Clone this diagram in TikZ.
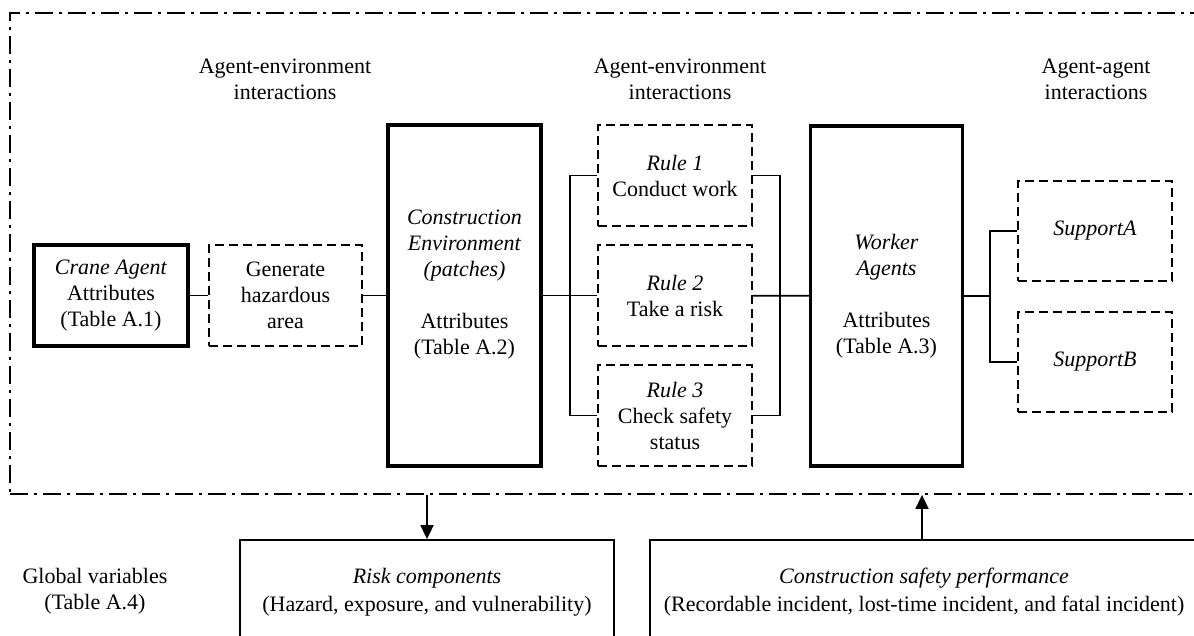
\documentclass[tikz,border=0pt]{standalone}
\usepackage{fontspec}
\setmainfont{Liberation Serif}
\usetikzlibrary{arrows.meta}
\tikzset{
  every node/.style={font=\fontsize{22}{26}\selectfont, align=center, inner sep=0pt},
  thickbox/.style={draw, line width=3.5pt, minimum width=#1},
  thickbox/.default=153pt,
  dbox/.style={draw, line width=1.8pt, dash pattern=on 9pt off 5pt, minimum width=154pt, minimum height=101pt},
  conn/.style={line width=1.8pt},
  arr/.style={line width=1.8pt, -{Triangle[length=14pt,width=13pt]}},
  frame/.style={draw, line width=1.8pt, dash pattern=on 18pt off 6pt on 3pt off 6pt},
  plainbox/.style={draw, line width=1.8pt}
}
\begin{document}
\begin{tikzpicture}[x=1pt,y=-1pt]
\clip (0,0) rectangle (1194,636);
\useasboundingbox (0,0) rectangle (1194,636);
\fill[white] (0,0) rectangle (1194,636);

% outer frame
\node[frame, minimum width=1200pt, minimum height=481pt] (frame) at (610,253.5) {};

% headings
\node (h1) at (285,79) {Agent-environment\\interactions};
\node (h2) at (680,79) {Agent-environment\\interactions};
\node (h3) at (1096,79) {Agent-agent\\interactions};

% main boxes
\node[thickbox=154pt, minimum height=101pt] (crane) at (111,295.5) {\textit{Crane Agent}\\Attributes\\(Table A.1)};
\node[dbox, minimum width=153pt] (gen) at (285.5,295.5) {Generate\\hazardous\\area};
\node[thickbox, minimum height=341pt] (env) at (464.5,295.5) {\textit{Construction}\\\textit{Environment}\\\textit{(patches)}\\[26pt]Attributes\\(Table A.2)\\~};
\node[dbox] (r1) at (675,175.5) {\textit{Rule 1}\\Conduct work};
\node[dbox] (r2) at (675,295.5) {\textit{Rule 2}\\Take a risk};
\node[dbox] (r3) at (675,415.5) {\textit{Rule 3}\\Check safety\\status};
\node[thickbox=152pt, minimum height=340pt] (worker) at (886.5,296) {\textit{Worker}\\\textit{Agents}\\[26pt]Attributes\\(Table A.3)};
\node[dbox, minimum height=100pt] (sa) at (1095,231) {\textit{SupportA}};
\node[dbox, minimum height=100pt] (sb) at (1095,362) {\textit{SupportB}};

% connectors
\coordinate (jl) at (570,296);
\coordinate (jr) at (780,296);
\coordinate (jw) at (990,296);
\draw[conn] (crane) -- (gen);
\draw[conn] (gen) -- (env);
\draw[conn] (env) -- (r2);
\draw[conn] (r1.west) -| (jl) |- (r3.west);
\draw[conn] (r2) -- (worker);
\draw[conn] (r1.east) -| (jr) |- (r3.east);
\draw[conn] (worker) -- (jw);
\draw[conn] (sa.west) -| (jw) |- (sb.west);

% bottom
\node (glob) at (95,591) {Global variables\\(Table A.4)};
\node[plainbox, minimum width=374pt, minimum height=104pt] (risk) at (427,592) {\textit{Risk components}\\[2pt](Hazard, exposure, and vulnerability)};
\node[plainbox, minimum width=548pt, minimum height=104pt] (safety) at (924,592) {\textit{Construction safety performance}\\[2pt](Recordable incident, lost-time incident, and fatal incident)};
\draw[arr] (frame.south -| risk.north) -- (risk.north);
\draw[arr] ([xshift=-2pt]safety.north) -- ([xshift=-2pt]safety.north |- frame.south);
\end{tikzpicture}
\end{document}
